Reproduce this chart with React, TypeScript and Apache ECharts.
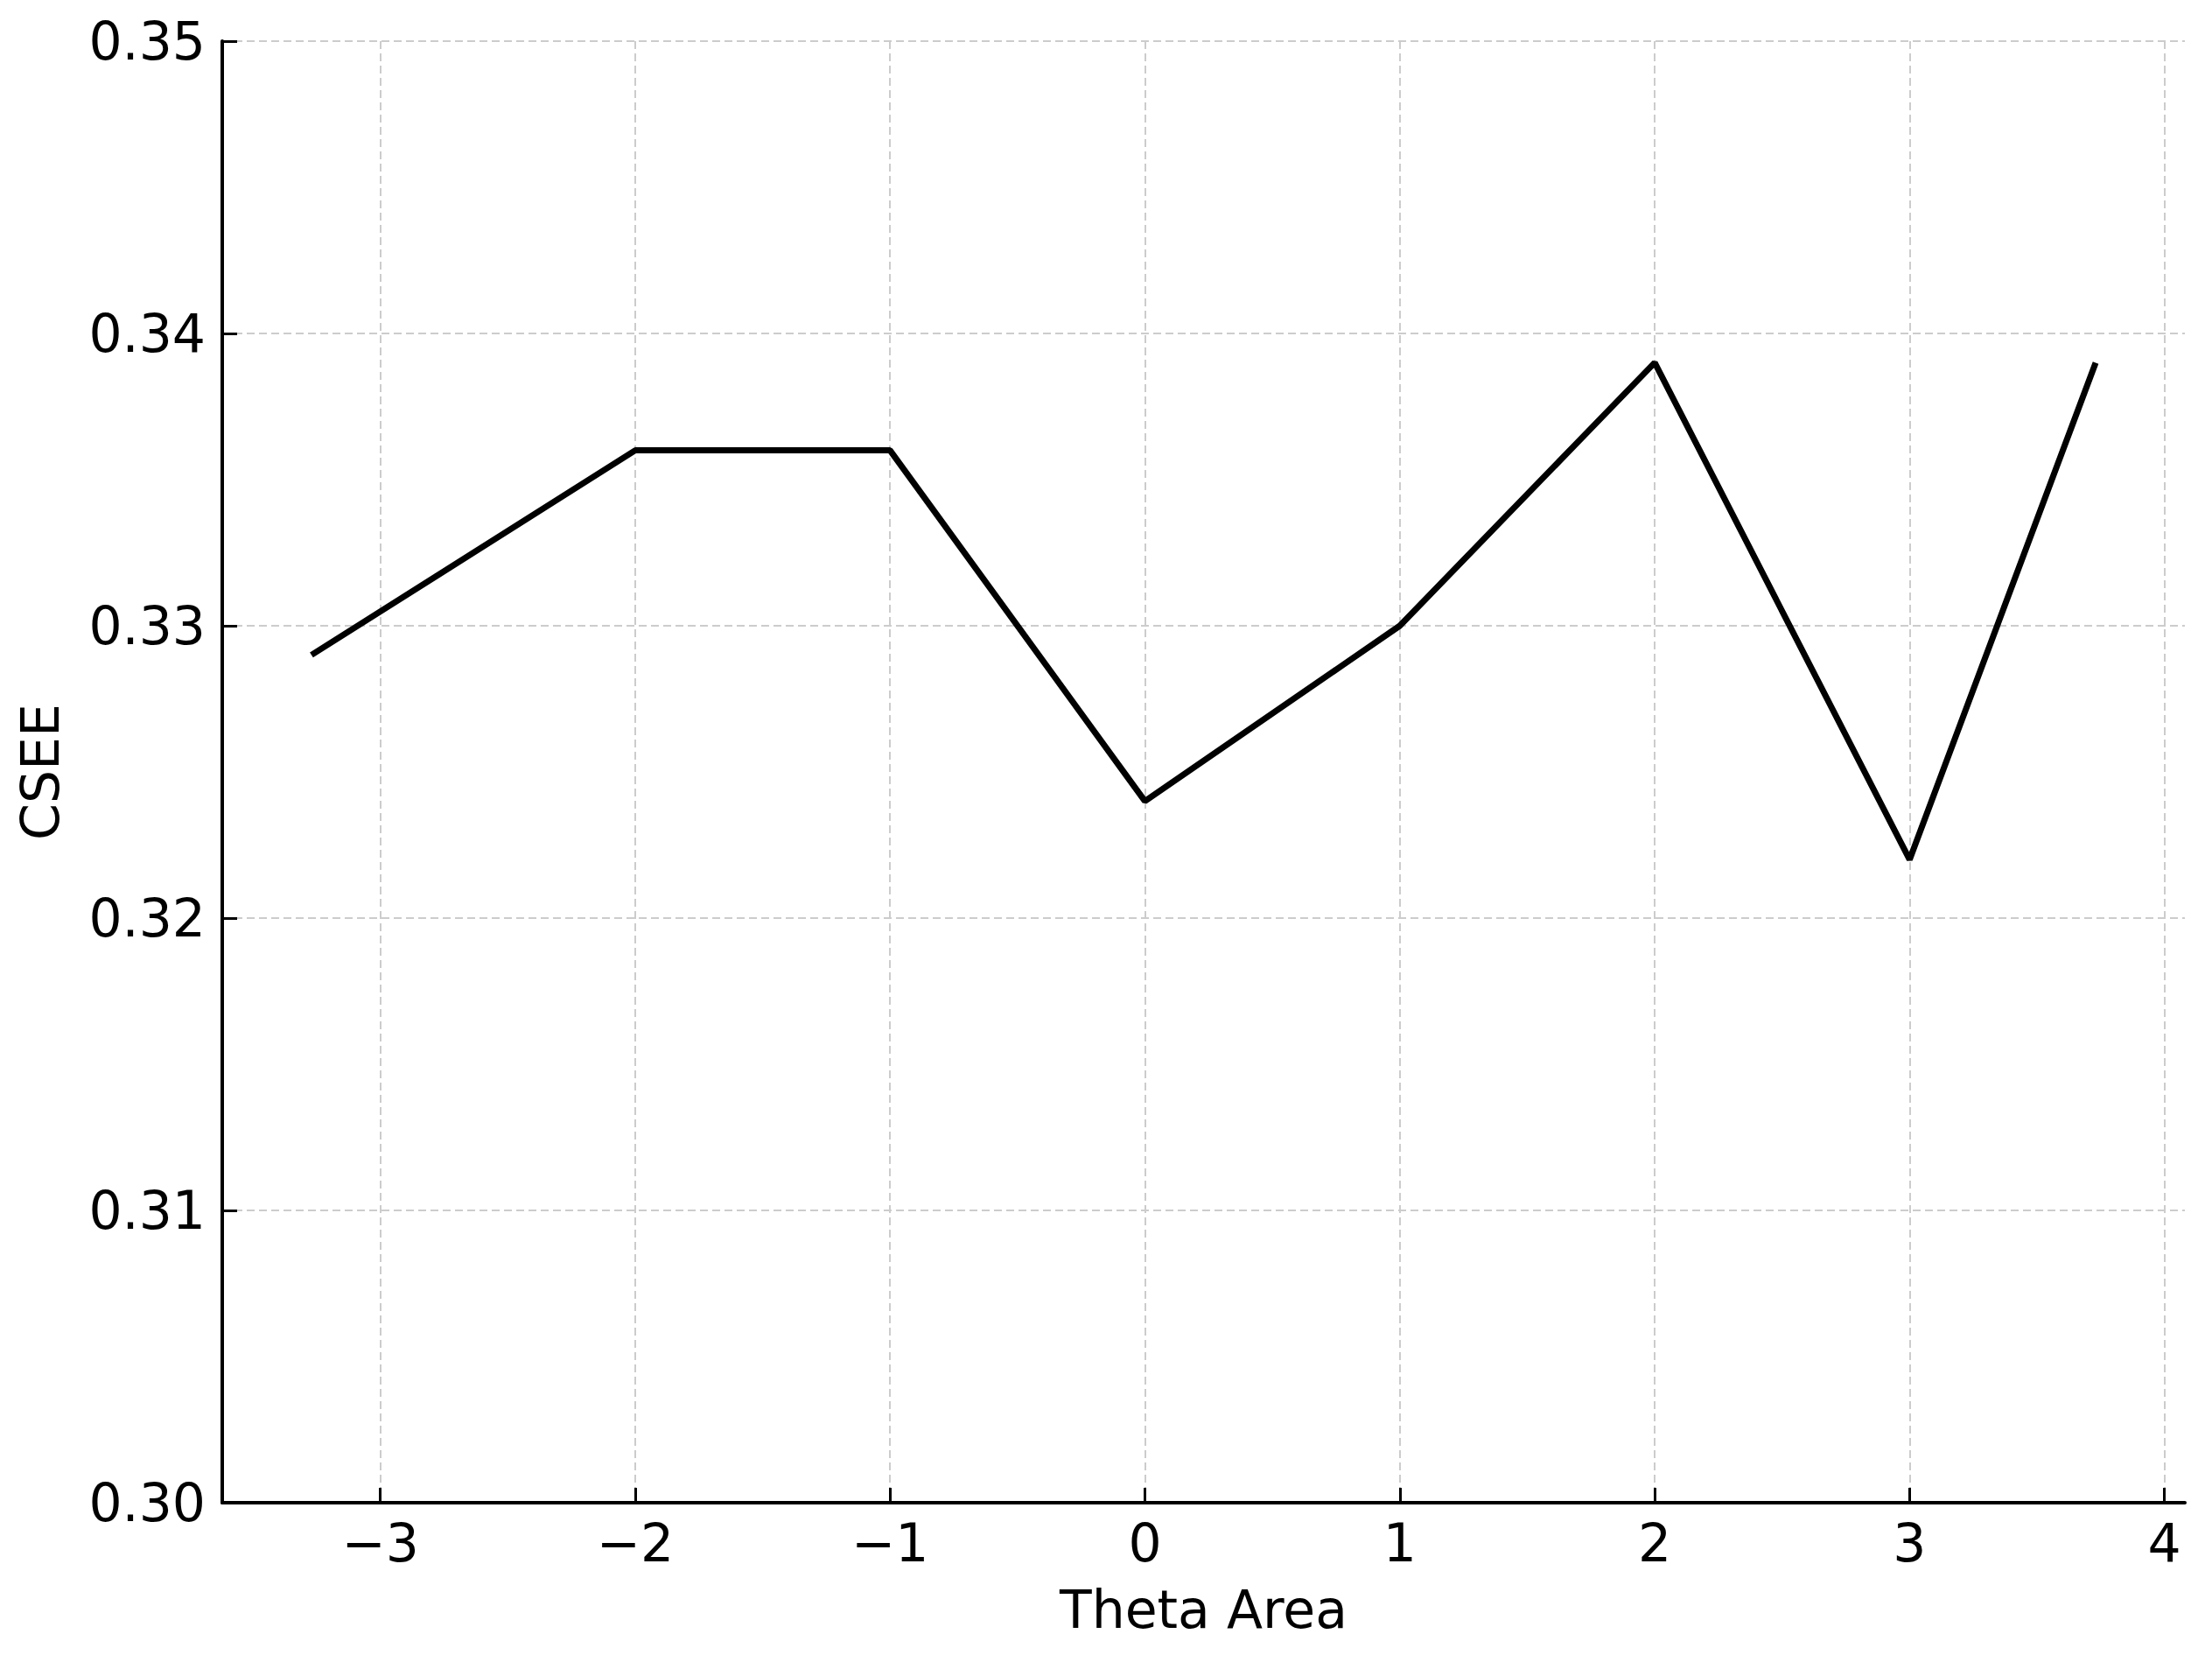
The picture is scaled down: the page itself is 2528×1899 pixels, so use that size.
import React, { useEffect, useRef } from "react";
import * as echarts from "echarts";

const thetaArea = [-3.27, -2, -1, 0, 1, 2, 3, 3.73];
const csee = [0.329, 0.336, 0.336, 0.324, 0.33, 0.339, 0.322, 0.339];
const xTicks = [-3, -2, -1, 0, 1, 2, 3, 4];

const FONT = "DejaVu Sans";

export default function App() {
  const ref = useRef<HTMLDivElement>(null);
  useEffect(() => {
    if (!ref.current) return;
    const chart = echarts.init(ref.current, null, { renderer: "svg" });
    const data = thetaArea.map((x, i) => [x, csee[i]]);
    chart.setOption({
      animation: false,
      backgroundColor: "#ffffff",
      grid: { left: 254, top: 47, width: 2243, height: 1670, containLabel: false },
      xAxis: {
        type: "value",
        min: -3.62,
        max: 4.08,
        name: "Theta Area",
        nameLocation: "middle",
        nameGap: 92,
        nameTextStyle: { fontFamily: FONT, fontSize: 60, color: "#000" },
        axisLine: { show: true, onZero: false, lineStyle: { color: "#000", width: 4 } },
        axisTick: { show: true, inside: true, length: 17, customValues: xTicks, lineStyle: { color: "#000", width: 3 } },
        axisLabel: {
          show: true,
          customValues: xTicks,
          margin: 16,
          fontFamily: FONT,
          fontSize: 60,
          color: "#000",
          formatter: (v: number) => String(v).replace("-", "\u2212"),
        },
        splitLine: { show: true, lineStyle: { color: "#cccccc", width: 2, type: [9, 5] } },
      },
      yAxis: {
        type: "value",
        min: 0.3,
        max: 0.35,
        interval: 0.01,
        name: "CSEE",
        nameLocation: "middle",
        nameGap: 178,
        nameTextStyle: { fontFamily: FONT, fontSize: 60, color: "#000" },
        axisLine: { show: true, onZero: false, lineStyle: { color: "#000", width: 4 } },
        axisTick: { show: true, inside: true, length: 17, lineStyle: { color: "#000", width: 3 } },
        axisLabel: {
          show: true,
          margin: 19,
          fontFamily: FONT,
          fontSize: 60,
          color: "#000",
          formatter: (v: number) => v.toFixed(2),
        },
        splitLine: { show: true, lineStyle: { color: "#cccccc", width: 2, type: [9, 5] } },
      },
      series: [
        {
          type: "line",
          data,
          symbol: "none",
          lineStyle: { color: "#000", width: 7 },
        },
      ],
    });
    return () => chart.dispose();
  }, []);
  return (
    <div
      ref={ref}
      style={{ position: "absolute", left: 0, top: 0, width: 2528, height: 1899 }}
    />
  );
}
